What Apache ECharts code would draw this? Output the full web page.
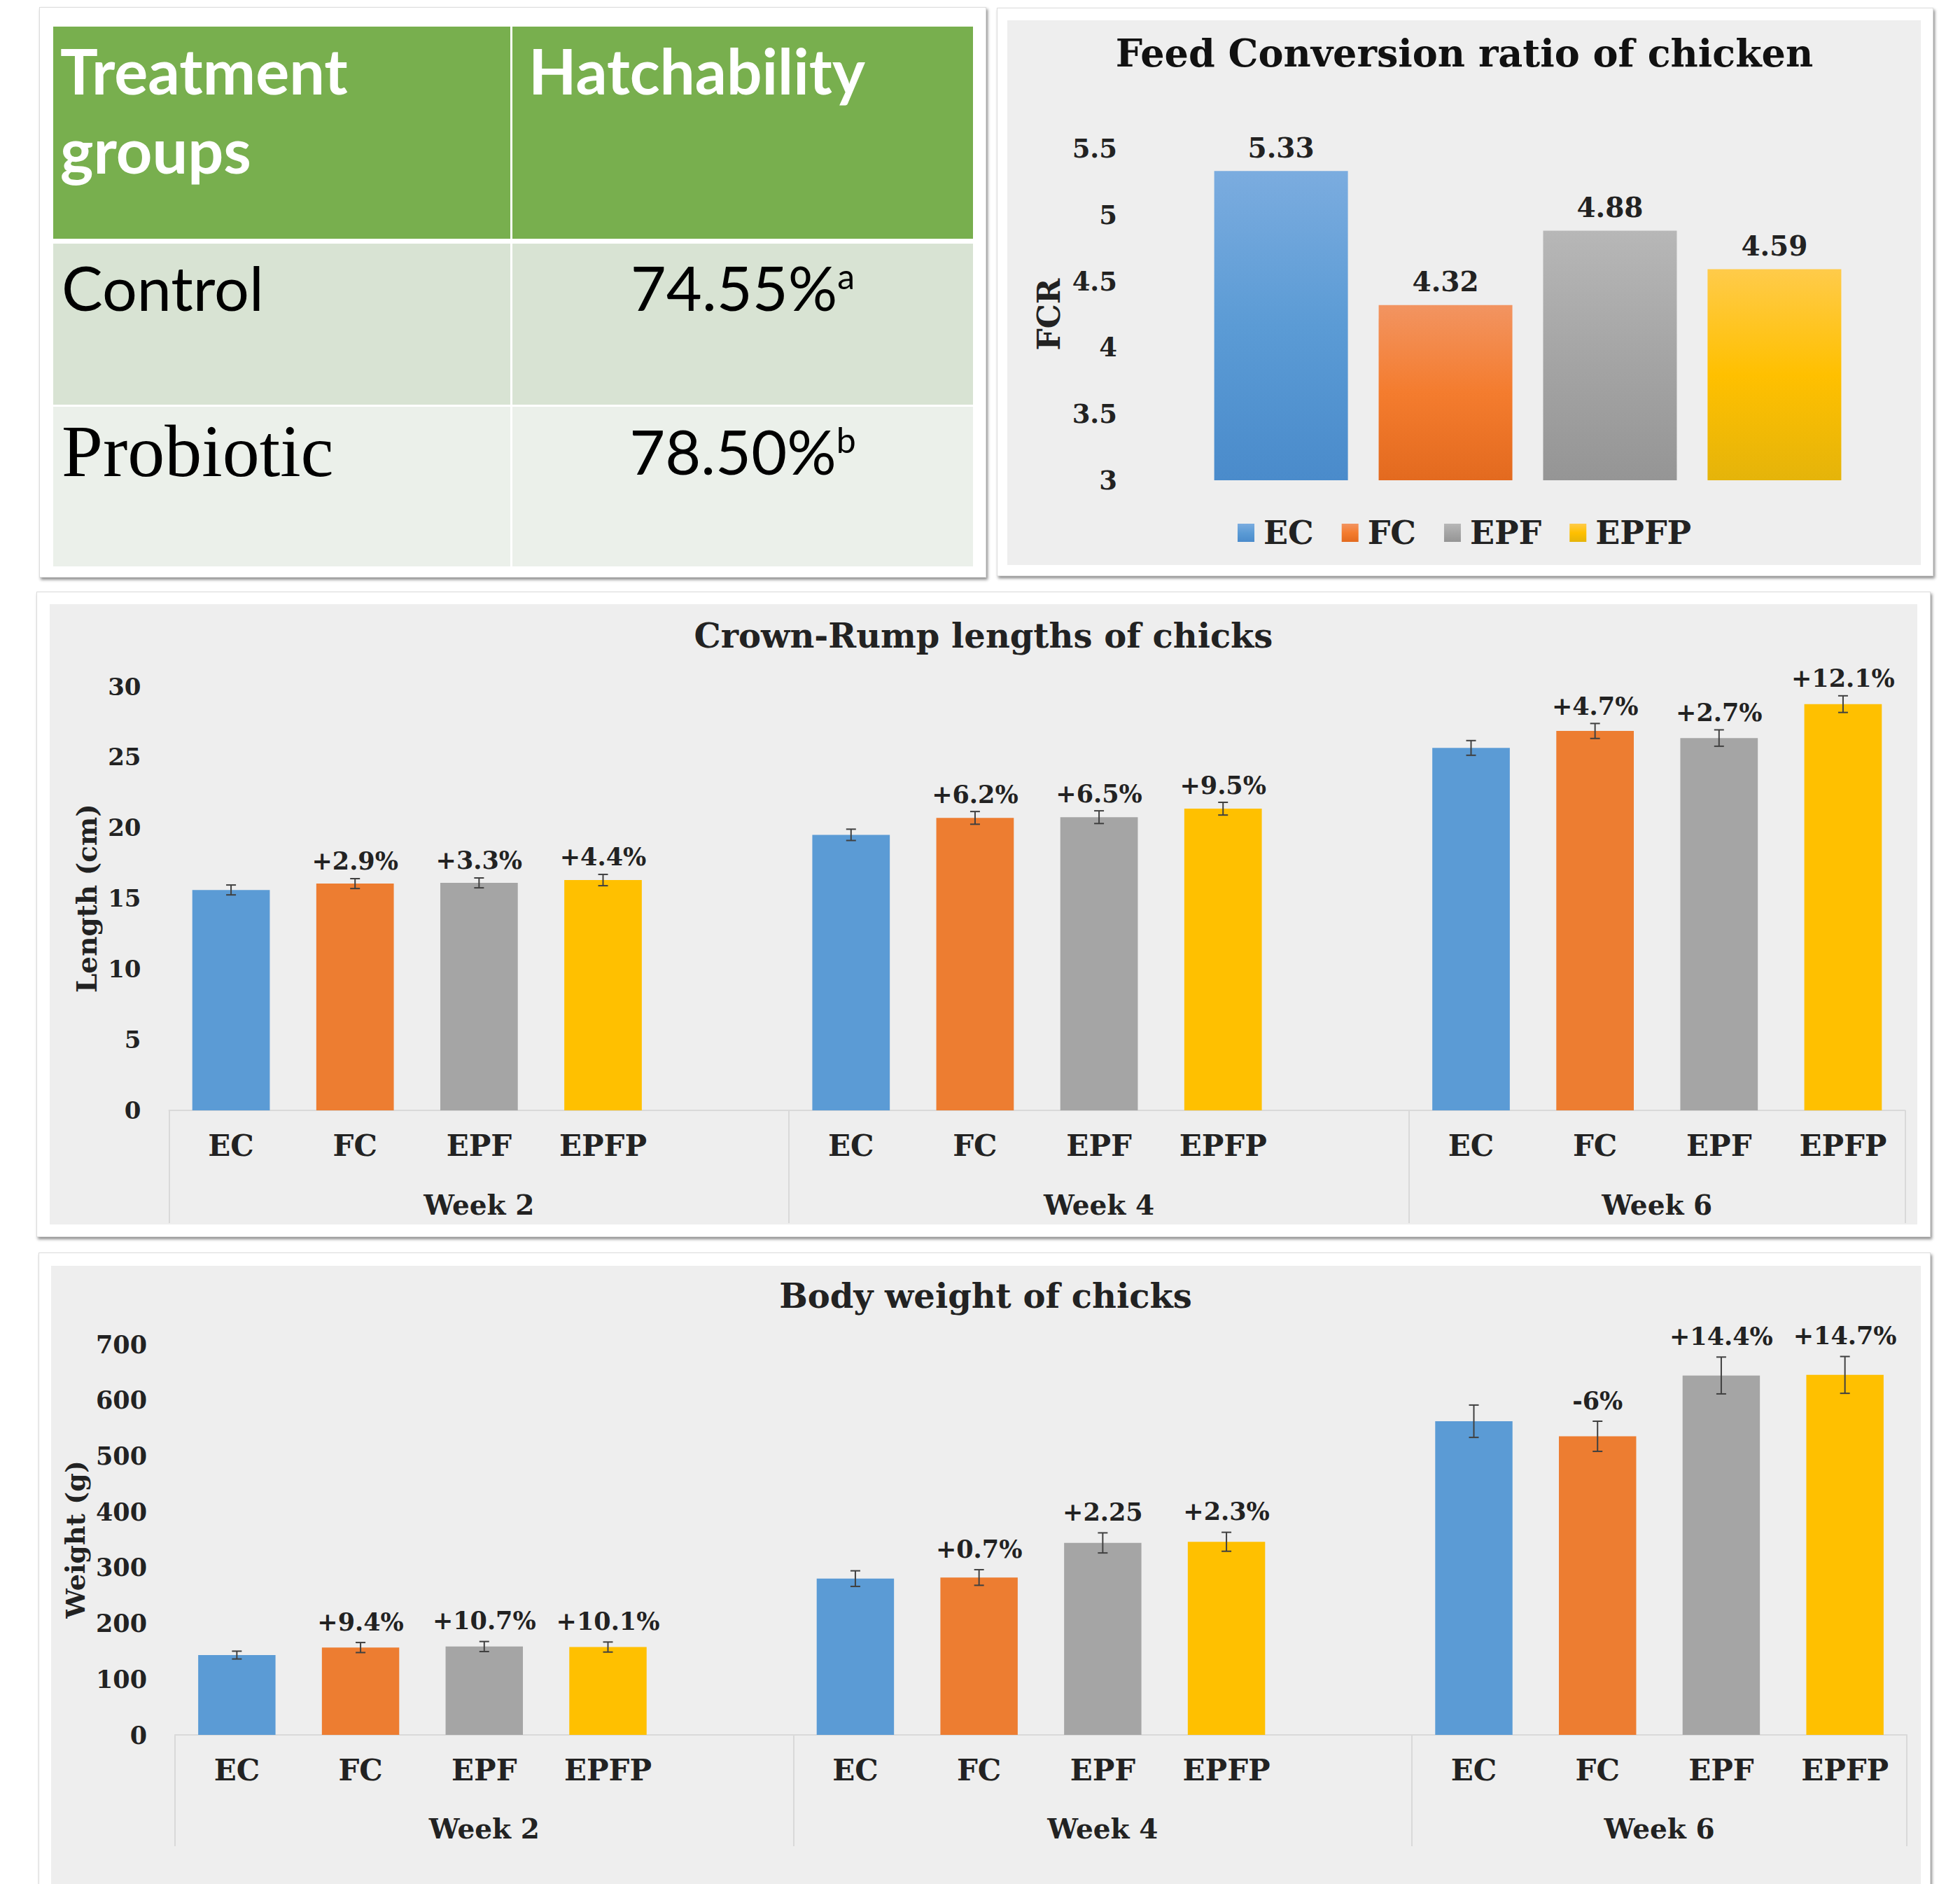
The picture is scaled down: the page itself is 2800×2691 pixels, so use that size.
<!DOCTYPE html>
<html>
<head>
<meta charset="utf-8">
<script src="https://cdn.jsdelivr.net/npm/echarts@6/dist/echarts.min.js"></script>
<style>
html,body{margin:0;padding:0;background:#ffffff;}
body{width:2800px;height:2691px;position:relative;overflow:hidden;}
.panel{position:absolute;background:#ffffff;border:1px solid #dcdcdc;box-sizing:border-box;box-shadow:2px 3px 4px rgba(0,0,0,0.45);}
.inner{position:absolute;background:#eeeeee;}
#chart{position:absolute;left:0;top:0;width:2800px;height:2691px;}
.cell{position:absolute;box-sizing:border-box;}
.txt{position:absolute;white-space:nowrap;}
</style>
</head>
<body>
<div class="panel" style="left:56px;top:10px;width:1353px;height:815px;"></div>
<div class="panel" style="left:1424px;top:11px;width:1338px;height:812px;"></div>
<div class="inner" style="left:1439px;top:29px;width:1305px;height:778px;"></div>
<div class="panel" style="left:52px;top:845px;width:2706px;height:922px;"></div>
<div class="inner" style="left:71px;top:863px;width:2668px;height:886px;"></div>
<div class="panel" style="left:55px;top:1789px;width:2703px;height:960px;"></div>
<div class="inner" style="left:73px;top:1808px;width:2671px;height:900px;"></div>
<div id="table"></div>
<div id="chart"></div>
<script>
// ---------- Hatchability table ----------
const tableHeaders = ['Treatment groups', 'Hatchability'];
const tableGroups = ['Control', 'Probiotic'];
const tableValues = ['74.55%', '78.50%'];
const tableSup = ['a', 'b'];

// ---------- Feed conversion ratio ----------
const fcrGroups = ['EC', 'FC', 'EPF', 'EPFP'];
const fcrValues = [5.33, 4.32, 4.88, 4.59];

// ---------- Multi-level categories ----------
const subGroups = ['EC', 'FC', 'EPF', 'EPFP'];
const weeks = ['Week 2', 'Week 4', 'Week 6'];

// ---------- Crown-Rump lengths (cm) ----------
const crWeek2 = [15.6, 16.05, 16.1, 16.3];
const crWeek4 = [19.5, 20.7, 20.75, 21.35];
const crWeek6 = [25.65, 26.85, 26.35, 28.75];
const crErr2 = [0.35, 0.35, 0.35, 0.4];
const crErr4 = [0.4, 0.45, 0.45, 0.45];
const crErr6 = [0.52, 0.53, 0.58, 0.59];
const crPct2 = ['', '+2.9%', '+3.3%', '+4.4%'];
const crPct4 = ['', '+6.2%', '+6.5%', '+9.5%'];
const crPct6 = ['', '+4.7%', '+2.7%', '+12.1%'];

// ---------- Body weight (g) ----------
const bwWeek2 = [143, 156.5, 158.3, 157.4];
const bwWeek4 = [280, 282, 344, 346];
const bwWeek6 = [562, 535, 644, 645];
const bwErr2 = [7, 9, 9, 9];
const bwErr4 = [14, 14, 18, 17];
const bwErr6 = [29, 27, 33, 33];
const bwPct2 = ['', '+9.4%', '+10.7%', '+10.1%'];
const bwPct4 = ['', '+0.7%', '+2.25', '+2.3%'];
const bwPct6 = ['', '-6%', '+14.4%', '+14.7%'];

// ---------- styles ----------
const COLORS = {EC: '#5B9BD5', FC: '#ED7D31', EPF: '#A5A5A5', EPFP: '#FFC000'};
const GRADS = {
  EC: ['#7BACDF', '#5B9BD5', '#4A8BCB'],
  FC: ['#F29461', '#F47C2E', '#E36A1F'],
  EPF: ['#B7B7B7', '#A5A5A5', '#959595'],
  EPFP: ['#FFCB4A', '#FFC000', '#E5B40A']
};
const SERIF = '"DejaVu Serif", "Liberation Serif", serif';
const INK = '#222222';

// ---------- table DOM ----------
(function buildTable() {
  const t = document.getElementById('table');
  const add = (html) => { t.insertAdjacentHTML('beforeend', html); };
  add('<div class="cell" style="left:76px;top:38px;width:653px;height:303px;background:#78AF4E;"></div>');
  add('<div class="cell" style="left:732px;top:38px;width:658px;height:303px;background:#78AF4E;"></div>');
  add('<div class="cell" style="left:76px;top:348px;width:653px;height:230px;background:#D8E3D3;"></div>');
  add('<div class="cell" style="left:732px;top:348px;width:658px;height:230px;background:#D8E3D3;"></div>');
  add('<div class="cell" style="left:76px;top:581px;width:653px;height:228px;background:#EBF0EA;"></div>');
  add('<div class="cell" style="left:732px;top:581px;width:658px;height:228px;background:#EBF0EA;"></div>');
  add('<div class="txt" style="left:86px;top:44px;width:600px;white-space:normal;font:bold 90px/113px Lato, sans-serif;color:#fff;">' + tableHeaders[0] + '</div>');
  add('<div class="txt" style="left:755px;top:44px;font:bold 89px/113px Lato, sans-serif;color:#fff;">' + tableHeaders[1] + '</div>');
  add('<div class="txt" style="left:88px;top:366px;font:88px/88px Lato, sans-serif;color:#000;">' + tableGroups[0] + '</div>');
  add('<div class="txt" style="left:88px;top:592px;font:106px/106px \'Liberation Serif\', serif;color:#000;">' + tableGroups[1] + '</div>');
  add('<div class="txt" style="left:732px;width:658px;text-align:center;top:366px;font:88px/88px Lato, sans-serif;color:#000;">' + tableValues[0] + '<span style="font-size:50px;position:relative;top:-31px;">' + tableSup[0] + '</span></div>');
  add('<div class="txt" style="left:732px;width:658px;text-align:center;top:600px;font:88px/88px Lato, sans-serif;color:#000;">' + tableValues[1] + '<span style="font-size:50px;position:relative;top:-31px;">' + tableSup[1] + '</span></div>');
})();

// ---------- helpers ----------
function buildLevels(weekVals, weekErrs, weekPct) {
  const cats = [], vals = [], errData = [], pct = [], starts = [], centers = [];
  weekVals.forEach((vs, w) => {
    starts.push(cats.length);
    vs.forEach((v, k) => {
      const idx = cats.length;
      cats.push(subGroups[k]);
      vals.push(v);
      errData.push([idx, v, weekErrs[w][k]]);
      pct.push(weekPct[w][k]);
    });
    if (w < weekVals.length - 1) { cats.push(''); vals.push('-'); }
  });
  starts.forEach((s, w) => {
    const end = (w < starts.length - 1 ? starts[w + 1] : cats.length) - 1;
    centers.push([(s + end) / 2, 0]);
  });
  return {cats, vals, errData, pct, starts, centers};
}

function grad(stops) {
  return new echarts.graphic.LinearGradient(0, 0, 0, 1, [
    {offset: 0, color: stops[0]}, {offset: 0.5, color: stops[1]}, {offset: 1, color: stops[2]}
  ]);
}

function errRender(labels, gap, fontSize) {
  return function (params, api) {
    const x = api.value(0), v = api.value(1), e = api.value(2);
    const top = api.coord([x, v + e]);
    const bot = api.coord([x, v - e]);
    const cx = top[0], hw = 7;
    const st = {stroke: '#404040', lineWidth: 2};
    const children = [
      {type: 'line', shape: {x1: cx, y1: top[1], x2: cx, y2: bot[1]}, style: st},
      {type: 'line', shape: {x1: cx - hw, y1: top[1], x2: cx + hw, y2: top[1]}, style: st},
      {type: 'line', shape: {x1: cx - hw, y1: bot[1], x2: cx + hw, y2: bot[1]}, style: st}
    ];
    const t = labels[params.dataIndex];
    if (t) {
      children.push({type: 'text', x: cx, y: top[1] - gap, style: {
        text: t, fill: INK, fontFamily: SERIF, fontWeight: 'bold', fontSize: fontSize,
        align: 'center', verticalAlign: 'middle'
      }});
    }
    return {type: 'group', children: children};
  };
}

function weekRender(params, api) {
  const p = api.coord([api.value(0), api.value(1)]);
  return {type: 'text', x: p[0], y: p[1], style: {
    text: weeks[params.dataIndex], fill: INK, fontFamily: SERIF, fontWeight: 'bold', fontSize: 39,
    align: 'center', verticalAlign: 'middle'
  }};
}

const cr = buildLevels([crWeek2, crWeek4, crWeek6], [crErr2, crErr4, crErr6], [crPct2, crPct4, crPct6]);
const bw = buildLevels([bwWeek2, bwWeek4, bwWeek6], [bwErr2, bwErr4, bwErr6], [bwPct2, bwPct4, bwPct6]);

const labelFont = {fontFamily: SERIF, fontWeight: 'bold', color: INK};

function catAxis(gridIndex, lv, tickLen) {
  return {
    type: 'category', gridIndex: gridIndex, data: lv.cats,
    axisLine: {show: true, lineStyle: {color: '#D9D9D9', width: 2}},
    axisTick: {show: true, alignWithLabel: false, length: tickLen,
      interval: (i) => lv.starts.indexOf(i) >= 0,
      lineStyle: {color: '#D9D9D9', width: 2}},
    axisLabel: Object.assign({interval: 0, margin: 29, fontSize: 42}, labelFont),
    splitLine: {show: false}
  };
}
function weekAxisX(gridIndex, lv) {
  return {type: 'value', gridIndex: gridIndex, min: -0.5, max: lv.cats.length - 0.5, show: false};
}
function weekAxisY(gridIndex) {
  return {type: 'value', gridIndex: gridIndex, min: -1, max: 1, show: false};
}
function weekSeries(axisIdx, lv) {
  return {
    type: 'custom', xAxisIndex: axisIdx, yAxisIndex: axisIdx, data: lv.centers,
    encode: {x: 0, y: 1}, clip: false, silent: true, renderItem: weekRender
  };
}

const fcrSeries = fcrGroups.map((g, i) => ({
  name: g, type: 'bar', xAxisIndex: 0, yAxisIndex: 0,
  data: [fcrValues[i]], barWidth: 191, barGap: '23%',
  itemStyle: {color: grad(GRADS[g])},
  label: Object.assign({show: true, position: 'top', distance: 14, fontSize: 39}, labelFont)
}));

const option = {
  animation: false,
  backgroundColor: 'transparent',
  title: [
    {text: 'Feed Conversion ratio of chicken', left: 2092, top: 45, textAlign: 'center', padding: 0,
      textStyle: {fontFamily: SERIF, fontWeight: 'bold', fontSize: 54, lineHeight: 62, color: '#111'}},
    {text: 'Crown-Rump lengths of chicks', left: 1405, top: 879, textAlign: 'center', padding: 0,
      textStyle: {fontFamily: SERIF, fontWeight: 'bold', fontSize: 48, lineHeight: 58, color: INK}},
    {text: 'Body weight of chicks', left: 1408, top: 1822, textAlign: 'center', padding: 0,
      textStyle: {fontFamily: SERIF, fontWeight: 'bold', fontSize: 48, lineHeight: 58, color: INK}}
  ],
  legend: {
    data: fcrGroups, left: 1768, top: 735, padding: 0, itemGap: 40,
    itemWidth: 24, itemHeight: 26, icon: 'rect', selectedMode: false,
    textStyle: {fontFamily: SERIF, fontWeight: 'bold', fontSize: 46, lineHeight: 52, color: INK, padding: [0, 0, 0, 8]}
  },
  grid: [
    {left: 1700, top: 212, width: 965, height: 474},
    {left: 241.5, top: 980.5, width: 2480, height: 605.5},
    {left: 241.5, top: 1701, width: 2480, height: 40},
    {left: 250, top: 1920, width: 2474, height: 558},
    {left: 250, top: 2592, width: 2474, height: 40}
  ],
  xAxis: [
    {type: 'category', gridIndex: 0, data: ['FCR'], show: false},
    catAxis(1, cr, 161),
    weekAxisX(2, cr),
    catAxis(3, bw, 159),
    weekAxisX(4, bw)
  ],
  yAxis: [
    {type: 'value', gridIndex: 0, min: 3, max: 5.5, interval: 0.5, startValue: 3,
      axisLine: {show: false}, axisTick: {show: false}, splitLine: {show: false},
      axisLabel: Object.assign({margin: 104, fontSize: 37}, labelFont),
      name: 'FCR', nameLocation: 'middle', nameRotate: 90, nameGap: 180,
      nameTextStyle: Object.assign({fontSize: 44}, labelFont)},
    {type: 'value', gridIndex: 1, min: 0, max: 30, interval: 5,
      axisLine: {show: false}, axisTick: {show: false}, splitLine: {show: false},
      axisLabel: Object.assign({margin: 40, fontSize: 34}, labelFont),
      name: 'Length (cm)', nameLocation: 'middle', nameRotate: 90, nameGap: 97,
      nameTextStyle: Object.assign({fontSize: 39}, labelFont)},
    weekAxisY(2),
    {type: 'value', gridIndex: 3, min: 0, max: 700, interval: 100,
      axisLine: {show: false}, axisTick: {show: false}, splitLine: {show: false},
      axisLabel: Object.assign({margin: 40, fontSize: 35}, labelFont),
      name: 'Weight (g)', nameLocation: 'middle', nameRotate: 90, nameGap: 119,
      nameTextStyle: Object.assign({fontSize: 38}, labelFont)},
    weekAxisY(4)
  ],
  series: fcrSeries.concat([
    {name: 'Crown-Rump length', type: 'bar', xAxisIndex: 1, yAxisIndex: 1, data: cr.vals,
      barCategoryGap: '37.5%',
      itemStyle: {color: (p) => COLORS[cr.cats[p.dataIndex]] || '#999'}},
    {name: 'Crown-Rump error', type: 'custom', xAxisIndex: 1, yAxisIndex: 1, data: cr.errData,
      encode: {x: 0, y: 1}, clip: false, silent: true, z: 3,
      renderItem: errRender(cr.pct, 25, 35)},
    weekSeries(2, cr),
    {name: 'Body weight', type: 'bar', xAxisIndex: 3, yAxisIndex: 3, data: bw.vals,
      barCategoryGap: '37.5%',
      itemStyle: {color: (p) => COLORS[bw.cats[p.dataIndex]] || '#999'}},
    {name: 'Body weight error', type: 'custom', xAxisIndex: 3, yAxisIndex: 3, data: bw.errData,
      encode: {x: 0, y: 1}, clip: false, silent: true, z: 3,
      renderItem: errRender(bw.pct, 30, 35)},
    weekSeries(4, bw)
  ])
};

const chart = echarts.init(document.getElementById('chart'), null, {renderer: 'svg', width: 2800, height: 2691});
chart.setOption(option);
</script>
</body>
</html>
